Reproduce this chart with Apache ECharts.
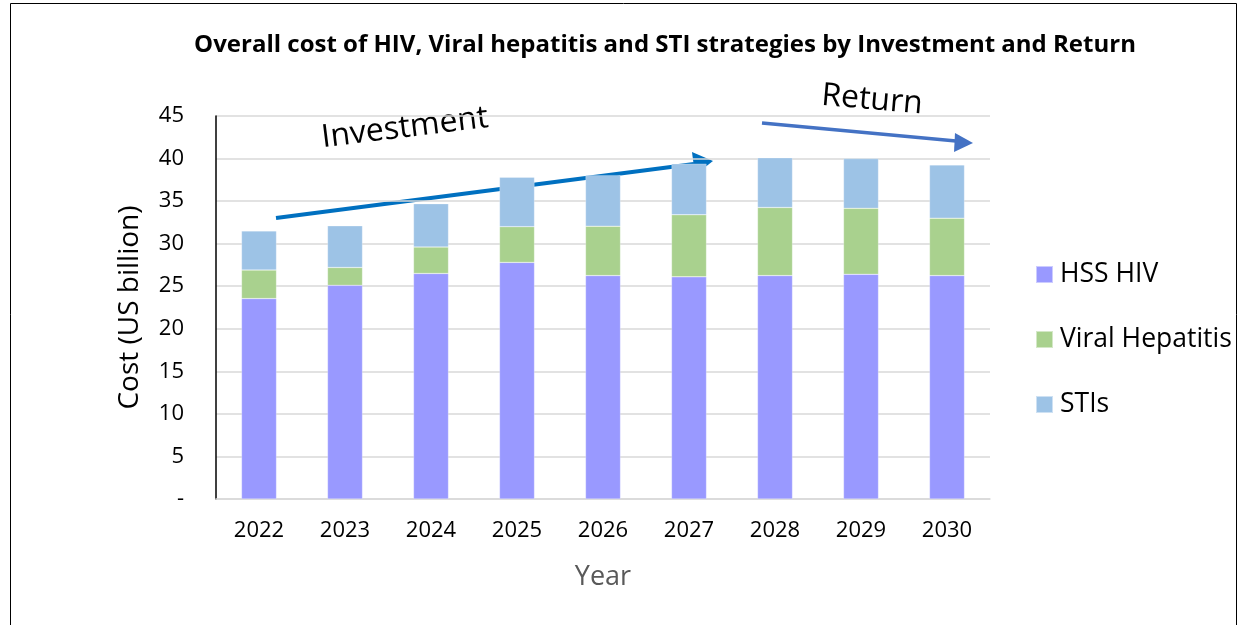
<!DOCTYPE html>
<html><head><meta charset="utf-8">
<script src="https://cdn.jsdelivr.net/npm/echarts@6/dist/echarts.min.js"></script>
<style>html,body{margin:0;padding:0;background:#fff}#c{width:1239px;height:625px}</style>
</head><body><div id="c"></div>
<script>
const years = ['2022','2023','2024','2025','2026','2027','2028','2029','2030'];
const hssHiv = [23.55, 25.1, 26.5, 27.8, 26.25, 26.1, 26.25, 26.4, 26.25];
const viralHep = [3.35, 2.1, 3.1, 4.2, 5.8, 7.3, 8.0, 7.75, 6.75];
const stis = [4.6, 4.9, 5.1, 5.8, 6.0, 6.0, 5.85, 5.85, 6.25];
const yTicks = [0,5,10,15,20,25,30,35,40,45];
const seriesNames = ['HSS HIV','Viral Hepatitis','STIs'];
const colors = ['#9999FF','#A9D18E','#9DC3E6'];
const F = 'Open Sans';

const chart = echarts.init(document.getElementById('c'));
const mk = (name, data, i) => ({
  name, type:'bar', stack:'s', data, barWidth:35,
  itemStyle:{color:colors[i], borderColor:'rgba(255,255,255,0.5)', borderWidth:0.5}
});
chart.setOption({
  animation:false,
  title:{text:'Overall cost of HIV, Viral hepatitis and STI strategies by Investment and Return',
    left:660, top:28, textAlign:'center',
    textStyle:{fontFamily:F, fontWeight:'bold', fontSize:24, color:'#000'}},
  grid:{left:216, right:249, top:116, bottom:126, containLabel:false},
  legend:{orient:'vertical', left:1030, top:256, itemWidth:17, itemHeight:17, itemGap:38,
    icon:'rect', data:seriesNames,
    textStyle:{fontFamily:F, fontSize:26.5, color:'#000', padding:[0,0,0,2]}},
  xAxis:{type:'category', data:years, name:'Year', nameLocation:'middle', nameGap:65,
    nameTextStyle:{fontFamily:F, fontSize:27, color:'#595959'},
    axisLine:{lineStyle:{color:'#D9D9D9', width:1.5}}, axisTick:{show:false},
    axisLabel:{fontFamily:F, fontSize:22, color:'#000', margin:21}},
  yAxis:{type:'value', min:0, max:45, interval:5,
    name:'Cost (US billion)', nameLocation:'middle', nameGap:72, nameRotate:90,
    nameTextStyle:{fontFamily:F, fontSize:28, color:'#000'},
    axisLine:{show:true, lineStyle:{color:'#000', width:1.5}}, axisTick:{show:false},
    splitLine:{lineStyle:{color:'#D9D9D9', width:1.5}},
    axisLabel:{fontFamily:F, fontSize:22, color:'#000', margin:32,
      formatter:v => v===0 ? '-' : String(v)}},
  series:[mk(seriesNames[0],hssHiv,0), mk(seriesNames[1],viralHep,1), mk(seriesNames[2],stis,2)],
  graphic:[
    {type:'rect', shape:{x:10.5,y:3.5,width:1226,height:640}, style:{fill:'none', stroke:'#000', lineWidth:1}, silent:true},
    {type:'text', x:405, y:128, rotation:7*Math.PI/180, style:{text:'Investment', fontFamily:F, fontSize:32, fill:'#000', textAlign:'center', textVerticalAlign:'middle'}},
    {type:'line', shape:{x1:276,y1:218,x2:694,y2:164}, style:{stroke:'#0070C0', lineWidth:4}},
    {type:'polygon', shape:{points:[[713,161],[692,152],[695,175]]}, style:{fill:'#0070C0'}},
    {type:'text', x:872, y:100, rotation:-5*Math.PI/180, style:{text:'Return', fontFamily:F, fontSize:32, fill:'#000', textAlign:'center', textVerticalAlign:'middle'}},
    {type:'line', shape:{x1:762,y1:123,x2:956,y2:141}, style:{stroke:'#4472C4', lineWidth:3.5}},
    {type:'polygon', shape:{points:[[973,143],[955,133],[954,152]]}, style:{fill:'#4472C4'}}
  ]
});
</script></body></html>
